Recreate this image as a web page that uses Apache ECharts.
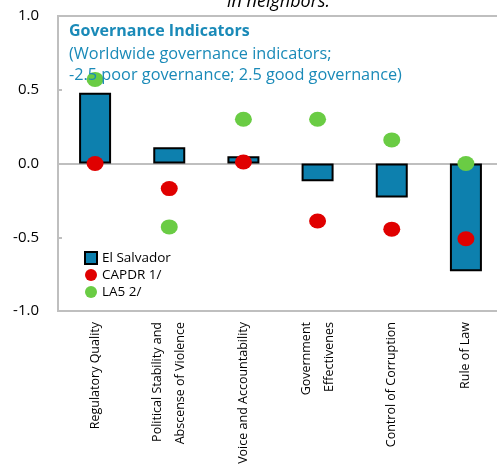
<!DOCTYPE html>
<html>
<head>
<meta charset="utf-8">
<script src="https://cdn.jsdelivr.net/npm/echarts@6/dist/echarts.min.js"></script>
<style>
  html, body { margin: 0; padding: 0; background: #fff; }
  #chart { width: 497px; height: 466px; }
</style>
</head>
<body>
<div id="chart"></div>
<script>
// categories
var categories = [
  'Regulatory Quality',
  'Political Stability and\nAbscense of Violence',
  'Voice and Accountability',
  'Government\nEffectivenes',
  'Control of Corruption',
  'Rule of Law'
]
// series values
var elSalvador = [0.48, 0.11, 0.05, -0.12, -0.23, -0.73]
var capdr = [0.0, -0.17, 0.01, -0.39, -0.445, -0.51]
var la5 = [0.57, -0.43, 0.30, 0.30, 0.16, 0.0]
// y ticks
var yTicks = [-1.0, -0.5, 0.0, 0.5, 1.0]

var font = 'Open Sans'
var blue = '#0d80ae'
var red = '#e00000'
var green = '#6acc44'
var grey = '#bfbfbf'

var chart = echarts.init(document.getElementById('chart'))
chart.setOption({
  animation: false,
  textStyle: { fontFamily: font },
  title: [
    {
      // cut-off headline above the chart
      text: 'in neighbors.',
      left: 222,
      top: -12,
      textStyle: { fontFamily: font, fontStyle: 'italic', fontWeight: 'normal', fontSize: 18, color: '#000' }
    },
    {
      text: 'Governance Indicators',
      left: 64,
      top: 18,
      textStyle: { fontFamily: font, fontWeight: 'bold', fontSize: 16, color: '#1a8ab8' }
    },
    {
      text: '(Worldwide governance indicators;\n-2.5 poor governance; 2.5 good governance)',
      left: 64,
      top: 39,
      textStyle: { fontFamily: font, fontWeight: 'normal', fontSize: 16.3, lineHeight: 21, color: '#1a8ab8' }
    }
  ],
  legend: {
    orient: 'vertical',
    left: 79,
    top: 246,
    itemGap: 3,
    itemWidth: 12,
    itemHeight: 12,
    textStyle: { fontFamily: font, fontSize: 13.5, color: '#000' },
    data: [
      { name: 'El Salvador', icon: 'rect', itemStyle: { color: blue, borderColor: '#000', borderWidth: 2 } },
      { name: 'CAPDR 1/', icon: 'circle' },
      { name: 'LA5 2/', icon: 'circle' }
    ]
  },
  grid: {
    left: 58,
    width: 445,
    top: 16,
    height: 295,
    outerBoundsMode: 'none',
    show: true,
    borderColor: grey,
    borderWidth: 2
  },
  xAxis: {
    type: 'category',
    data: categories,
    axisLine: { onZero: false, lineStyle: { color: grey, width: 2 } },
    axisTick: { inside: true, length: 4, lineStyle: { color: grey, width: 2 } },
    axisLabel: {
      rotate: 90,
      interval: 0,
      margin: 11,
      fontSize: 12.5,
      lineHeight: 23,
      color: '#000'
    }
  },
  yAxis: {
    type: 'value',
    min: yTicks[0],
    max: yTicks[yTicks.length - 1],
    interval: 0.5,
    splitLine: { show: false },
    axisLine: { show: true, lineStyle: { color: grey, width: 2 } },
    axisTick: { show: true, inside: true, length: 4, lineStyle: { color: grey, width: 2 } },
    axisLabel: {
      fontSize: 15,
      color: '#000',
      margin: 19,
      formatter: function(v) { return v.toFixed(1) }
    }
  },
  series: [
    {
      name: 'El Salvador',
      type: 'bar',
      data: elSalvador,
      barWidth: 32,
      itemStyle: { color: blue, borderColor: '#000', borderWidth: 2 },
      z: 2,
      markLine: {
        silent: true,
        symbol: 'none',
        label: { show: false },
        lineStyle: { color: grey, width: 2, type: 'solid' },
        data: [{ yAxis: 0 }],
        z: 1
      }
    },
    {
      name: 'CAPDR 1/',
      type: 'scatter',
      data: capdr,
      symbol: 'circle',
      symbolSize: [17, 15],
      itemStyle: { color: red, opacity: 1 },
      z: 4
    },
    {
      name: 'LA5 2/',
      type: 'scatter',
      data: la5,
      symbol: 'circle',
      symbolSize: [17, 15],
      itemStyle: { color: green, opacity: 1 },
      z: 3
    }
  ]
})
</script>
</body>
</html>
